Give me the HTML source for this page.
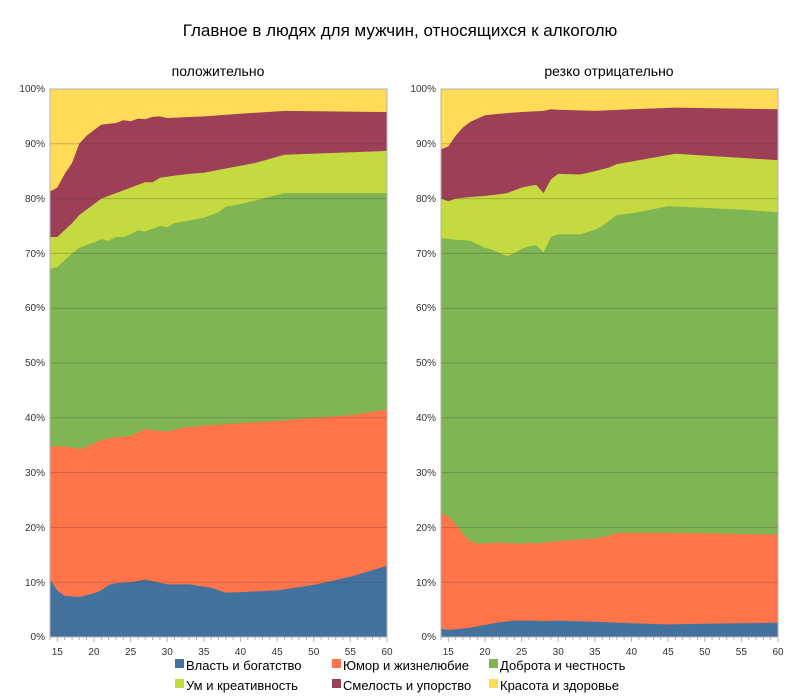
<!DOCTYPE html>
<html><head><meta charset="utf-8"><style>
body{margin:0;background:#fff;width:800px;height:695px;overflow:hidden}
svg text{font-family:"Liberation Sans",sans-serif}
</style></head><body>
<svg id="s" width="800" height="695" xmlns="http://www.w3.org/2000/svg">
<text x="400" y="36" font-size="17" text-anchor="middle" fill="#000">Главное в людях для мужчин, относящихся к алкоголю</text>
<text x="218" y="76" font-size="14" text-anchor="middle">положительно</text>
<text x="609" y="76" font-size="14" text-anchor="middle">резко отрицательно</text>
<g id="p1"></g><g id="p2"></g>
<g font-size="10" fill="#333">
<text x="45" y="92" text-anchor="end">100%</text><text x="45" y="147" text-anchor="end">90%</text><text x="45" y="202" text-anchor="end">80%</text><text x="45" y="257" text-anchor="end">70%</text><text x="45" y="311" text-anchor="end">60%</text><text x="45" y="366" text-anchor="end">50%</text><text x="45" y="421" text-anchor="end">40%</text><text x="45" y="476" text-anchor="end">30%</text><text x="45" y="531" text-anchor="end">20%</text><text x="45" y="586" text-anchor="end">10%</text><text x="45" y="640" text-anchor="end">0%</text>
<text x="436" y="92" text-anchor="end">100%</text><text x="436" y="147" text-anchor="end">90%</text><text x="436" y="202" text-anchor="end">80%</text><text x="436" y="257" text-anchor="end">70%</text><text x="436" y="311" text-anchor="end">60%</text><text x="436" y="366" text-anchor="end">50%</text><text x="436" y="421" text-anchor="end">40%</text><text x="436" y="476" text-anchor="end">30%</text><text x="436" y="531" text-anchor="end">20%</text><text x="436" y="586" text-anchor="end">10%</text><text x="436" y="640" text-anchor="end">0%</text>
</g>
<g font-size="13" fill="#000">
<rect x="175" y="659" width="9" height="9" fill="#44729f"/><text x="186" y="670">Власть и богатство</text>
<rect x="332" y="659" width="9" height="9" fill="#ff7549"/><text x="343" y="670">Юмор и жизнелюбие</text>
<rect x="489" y="659" width="9" height="9" fill="#7fb552"/><text x="500" y="670">Доброта и честность</text>
<rect x="175" y="679" width="9" height="9" fill="#c4da40"/><text x="186" y="690">Ум и креативность</text>
<rect x="332" y="679" width="9" height="9" fill="#9e3f58"/><text x="343" y="690">Смелость и упорство</text>
<rect x="489" y="679" width="9" height="9" fill="#ffdb57"/><text x="500" y="690">Красота и здоровье</text>
</g>
</svg>
<script>
var cols=["#44729f","#ff7549","#7fb552","#c4da40","#9e3f58","#ffdb57"];
var L=[
[[14,10.5],[15,8.5],[16,7.5],[18,7.3],[20,8],[21,8.5],[22,9.5],[23,9.8],[25,10],[27,10.5],[28,10.2],[30,9.6],[33,9.6],[36,9],[38,8.1],[40,8.2],[45,8.5],[50,9.5],[55,11],[60,13]],
[[14,34.8],[16,34.8],[18,34.3],[19,34.7],[21,36],[23,36.5],[25,36.7],[27,38],[28,37.7],[30,37.5],[32,38.2],[35,38.6],[40,39],[45,39.4],[50,40],[55,40.5],[60,41.5]],
[[14,67.2],[15,67.5],[17,70],[18,71],[20,72],[21,72.6],[22,72.3],[23,73],[24,73],[25,73.5],[26,74.2],[27,74],[28,74.5],[29,75],[30,74.8],[31,75.5],[33,76],[35,76.5],[37,77.5],[38,78.5],[40,79],[43,80],[46,81],[60,81]],
[[14,73],[15,73],[17,75.5],[18,77],[20,79],[21,80],[23,81],[25,82],[26,82.5],[27,83],[28,83],[29,83.8],[31,84.2],[33,84.5],[35,84.7],[38,85.5],[42,86.5],[46,88],[60,88.7]],
[[14,81.3],[15,82],[16,84.5],[17,86.5],[18,90],[19,91.5],[20,92.5],[21,93.5],[23,93.8],[24,94.3],[25,94.1],[26,94.6],[27,94.5],[28,94.9],[29,95],[30,94.7],[35,95],[40,95.5],[46,96],[60,95.8]],
[[14,100],[60,100]]];
var R=[
[[14,1.5],[15,1.3],[18,1.7],[20,2.2],[22,2.7],[24,3],[27,3],[28,2.9],[30,3],[35,2.8],[40,2.5],[45,2.3],[50,2.4],[55,2.5],[60,2.6]],
[[14,22.5],[15,22],[16,20.5],[17,18.8],[18,17.5],[19,17],[22,17.2],[25,17],[26,17.2],[27,17],[28,17.2],[30,17.5],[33,17.8],[35,18],[37,18.5],[38,19],[45,19],[60,18.7]],
[[14,72.8],[16,72.5],[18,72.3],[20,71],[21,70.7],[23,69.5],[24,70],[25,70.8],[26,71.3],[27,71.5],[28,70.2],[29,73],[30,73.5],[33,73.5],[35,74.3],[36,75],[37,76],[38,77],[40,77.3],[45,78.6],[50,78.3],[55,78],[60,77.5]],
[[14,80],[15,79.5],[16,80],[18,80.3],[20,80.5],[22,80.8],[23,81],[24,81.5],[25,82],[26,82.3],[27,82.5],[28,81],[29,83.5],[30,84.5],[33,84.4],[35,85],[37,85.7],[38,86.3],[46,88.2],[60,87]],
[[14,89],[15,89.5],[16,91.5],[17,93],[18,94],[20,95.2],[22,95.5],[25,95.8],[28,96],[29,96.3],[30,96.2],[35,96],[40,96.3],[46,96.6],[60,96.3]],
[[14,100],[60,100]]];
function draw(g,d,x0){
 var X=function(a){return x0+(a-14)*337/46},Y=function(v){return 637-v*5.48};
 var h="";
 for(var i=5;i>=0;i--){
  var p=d[i].map(function(q){return X(q[0]).toFixed(1)+","+Y(q[1]).toFixed(1)});
  p.push(X(60)+","+637);p.push(X(14)+","+637);
  h+='<polygon fill="'+cols[i]+'" points="'+p.join(" ")+'"/>';
 }
 for(var k=0;k<=10;k++){var y=Y(k*10);h+='<line x1="'+x0+'" x2="'+(x0+337)+'" y1="'+y+'" y2="'+y+'" stroke="rgba(60,60,60,0.28)" stroke-width="1"/>';}
 h+='<rect x="'+x0+'" y="89" width="337" height="548" fill="none" stroke="#b3b3b3"/>';
 for(var a=14;a<=60;a++){var x=X(a);h+='<line x1="'+x+'" x2="'+x+'" y1="637" y2="'+(a%5==0?642:640)+'" stroke="#b3b3b3"/>';
  if(a%5==0)h+='<text x="'+x+'" y="655" font-size="10" text-anchor="middle" fill="#333">'+a+'</text>';}
 document.getElementById(g).innerHTML=h;
}
draw("p1",L,50);draw("p2",R,441);
</script>
</body></html>
